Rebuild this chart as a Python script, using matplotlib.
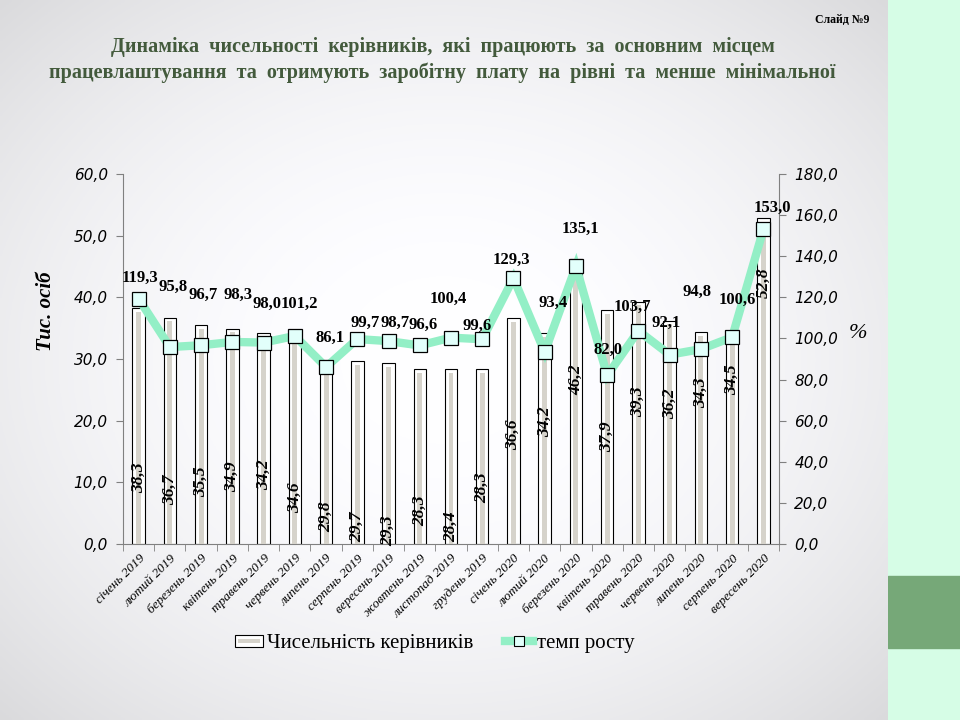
import numpy as np
import matplotlib
matplotlib.use("Agg")
import matplotlib.pyplot as plt
from matplotlib.lines import Line2D
from matplotlib.patches import Rectangle
from matplotlib.legend_handler import HandlerBase

# ---------- дані ----------
months = [
    "січень 2019", "лютий 2019", "березень 2019", "квітень 2019", "травень 2019",
    "червень 2019", "липень 2019", "серпень 2019", "вересень 2019", "жовтень 2019",
    "листопад 2019", "грудень 2019", "січень 2020", "лютий 2020", "березень 2020",
    "квітень 2020", "травень 2020", "червень 2020", "липень 2020", "серпень 2020",
    "вересень 2020",
]
managers = [38.3, 36.7, 35.5, 34.9, 34.2, 34.6, 29.8, 29.7, 29.3, 28.3, 28.4,
            28.3, 36.6, 34.2, 46.2, 37.9, 39.3, 36.2, 34.3, 34.5, 52.8]
growth = [119.3, 95.8, 96.7, 98.3, 98.0, 101.2, 86.1, 99.7, 98.7, 96.6, 100.4,
          99.6, 129.3, 93.4, 135.1, 82.0, 103.7, 92.1, 94.8, 100.6, 153.0]

# розміщення підписів (як у слайді)
bar_label_y = [10.7, 8.8, 10.1, 10.9, 11.2, 7.5, 4.4, 2.8, 2.1, 5.4, 2.8,
               9.1, 17.8, 19.8, 26.6, 17.4, 23.0, 22.8, 24.5, 26.7, 42.3]
rate_label_y = [129.4, 125.0, 121.1, 121.1, 116.7, 116.7, 100.2, 107.5, 107.5,
                106.5, 119.2, 106.0, 138.1, 117.2, 153.2, 94.4, 115.3, 107.5,
                122.6, 118.7, 163.4]
rate_label_dx = [0.05, 0.1, 0.06, 0.19, 0.1, 0.16, 0.13, 0.25, 0.2, 0.1, -0.1,
                 -0.16, -0.05, 0.26, 0.13, 0.03, -0.2, -0.1, -0.13, 0.16, 0.3]

LINE_C = "#93EFC6"
MARK_C = "#E2FFFB"
BAR_GRAY = "#D6D3CB"
TITLE_C = "#435A3C"
SERIF = ["Liberation Serif", "DejaVu Serif"]


def fmt(v):
    return f"{v:.1f}".replace(".", ",")


fig = plt.figure(figsize=(9.6, 7.2), dpi=100)

# фон слайду: радіальний градієнт + зелена смуга праворуч
bg = fig.add_axes([0, 0, 888 / 960, 1])
yy, xx = np.mgrid[0:1:300j, 0:1:300j]
r = np.sqrt((xx - 0.5) ** 2 + (yy - 0.5) ** 2)
shade = 1.0 - 0.15 * np.clip(r / 0.72, 0, 1) ** 2
bg.imshow(np.dstack([shade, shade, shade * 1.01]).clip(0, 1), extent=[0, 1, 0, 1],
          aspect="auto", origin="lower")
bg.set_axis_off()

side = fig.add_axes([888 / 960, 0, 72 / 960, 1])
side.set_xlim(0, 1)
side.set_ylim(0, 720)
side.add_patch(Rectangle((0, 0), 1, 720, color="#D6FDE6"))
side.add_patch(Rectangle((0, 720 - 648), 1, 72, color="#76A878"))
side.set_axis_off()

# заголовок
fig.text(0.906, 0.981, "Слайд №9", ha="right", va="top", family=SERIF,
         fontsize=8.5, fontweight="bold")
fig.text(0.461, 0.935, "Динаміка  чисельності  керівників,  які  працюють  за  основним  місцем",
         ha="center", va="center", family=SERIF, fontsize=14.5, fontweight="bold",
         color=TITLE_C)
fig.text(0.461, 0.899, "працевлаштування  та  отримують  заробітну  плату  на  рівні  та  менше  мінімальної",
         ha="center", va="center", family=SERIF, fontsize=14.5, fontweight="bold",
         color=TITLE_C)

# основна діаграма
ax = fig.add_axes([123 / 960, 1 - 544 / 720, 656 / 960, 370 / 720])
ax.patch.set_alpha(0)
x = np.arange(len(months))
ax.bar(x, managers, width=0.4, color="white", edgecolor="black", linewidth=0.8, zorder=2)
ax.bar(x, np.array(managers) - 0.6, width=0.16, color=BAR_GRAY, linewidth=0, zorder=3)
for xi, yl, v in zip(x, bar_label_y, managers):
    ax.text(xi, yl, fmt(v), rotation=90, ha="center", va="center", family=SERIF,
            fontsize=12.5, fontweight="bold", style="italic", zorder=6)

ax.set_xlim(-0.5, len(months) - 0.5)
ax.set_ylim(0, 60)
ax.set_yticks(np.arange(0, 61, 10))
ax.set_yticklabels([fmt(v) for v in np.arange(0, 61, 10)], style="italic", fontsize=11)
ax.set_xticks(x)
ax.set_xticklabels(months, rotation=45, ha="right", rotation_mode="anchor",
                   family=SERIF, style="italic", fontsize=9.5)
ax.set_xticks(np.arange(-0.5, len(months)), minor=True)
ax.tick_params(axis="x", which="major", length=0, pad=6)
ax.tick_params(axis="x", which="minor", length=5, color="#808080")
ax.tick_params(axis="y", length=5, color="#808080", pad=6)
for s in ["top", "right"]:
    ax.spines[s].set_visible(False)
ax.spines["left"].set_color("#808080")
ax.spines["bottom"].set_color("#808080")
ax.set_ylabel("Тис. осіб", family=SERIF, fontsize=15, fontweight="bold",
              style="italic")
ax.yaxis.set_label_coords(-0.102, 0.63)

ax2 = ax.twinx()
ax2.plot(x, growth, color=LINE_C, lw=6, solid_joinstyle="miter", zorder=4)
ax2.plot(x, growth, ls="none", marker="s", markersize=9.5, markerfacecolor=MARK_C,
         markeredgecolor="black", markeredgewidth=0.9, zorder=5)
for xi, dx, yl, v in zip(x, rate_label_dx, rate_label_y, growth):
    ax2.text(xi + dx, yl, fmt(v), ha="center", va="center", family=SERIF,
             fontsize=12, fontweight="bold", zorder=6)
ax2.set_ylim(0, 180)
ax2.set_yticks(np.arange(0, 181, 20))
ax2.set_yticklabels([fmt(v) for v in np.arange(0, 181, 20)], style="italic", fontsize=11)
ax2.tick_params(axis="y", length=5, color="#808080", pad=6)
for s in ["top", "left", "bottom"]:
    ax2.spines[s].set_visible(False)
ax2.spines["right"].set_color("#808080")
ax2.set_ylabel("%", family=SERIF, fontsize=16, style="italic", rotation=0,
               va="center", ha="center")
ax2.yaxis.set_label_coords(1.12, 0.57)


class BarHandle:
    pass


class BarHandler(HandlerBase):
    def create_artists(self, legend, orig, xd, yd, w, h, fontsize, trans):
        outer = Rectangle((xd, yd + h * 0.1), w, h * 0.8, facecolor="white",
                          edgecolor="black", lw=0.8, transform=trans)
        inner = Rectangle((xd + w * 0.12, yd + h * 0.38), w * 0.76, h * 0.24,
                          facecolor=BAR_GRAY, lw=0, transform=trans)
        return [outer, inner]


line_h = Line2D([], [], color=LINE_C, lw=6, marker="s", markersize=7.5,
                markerfacecolor=MARK_C, markeredgecolor="black", markeredgewidth=0.8)
leg = fig.legend([BarHandle(), line_h], ["Чисельність керівників", "темп росту"],
                 handler_map={BarHandle: BarHandler()}, loc="center",
                 bbox_to_anchor=(0.453, 0.106), ncol=2, frameon=False,
                 prop={"family": SERIF, "size": 15}, handlelength=1.35,
                 handletextpad=0.2, columnspacing=1.5)

fig.savefig("out.png", dpi=100)
